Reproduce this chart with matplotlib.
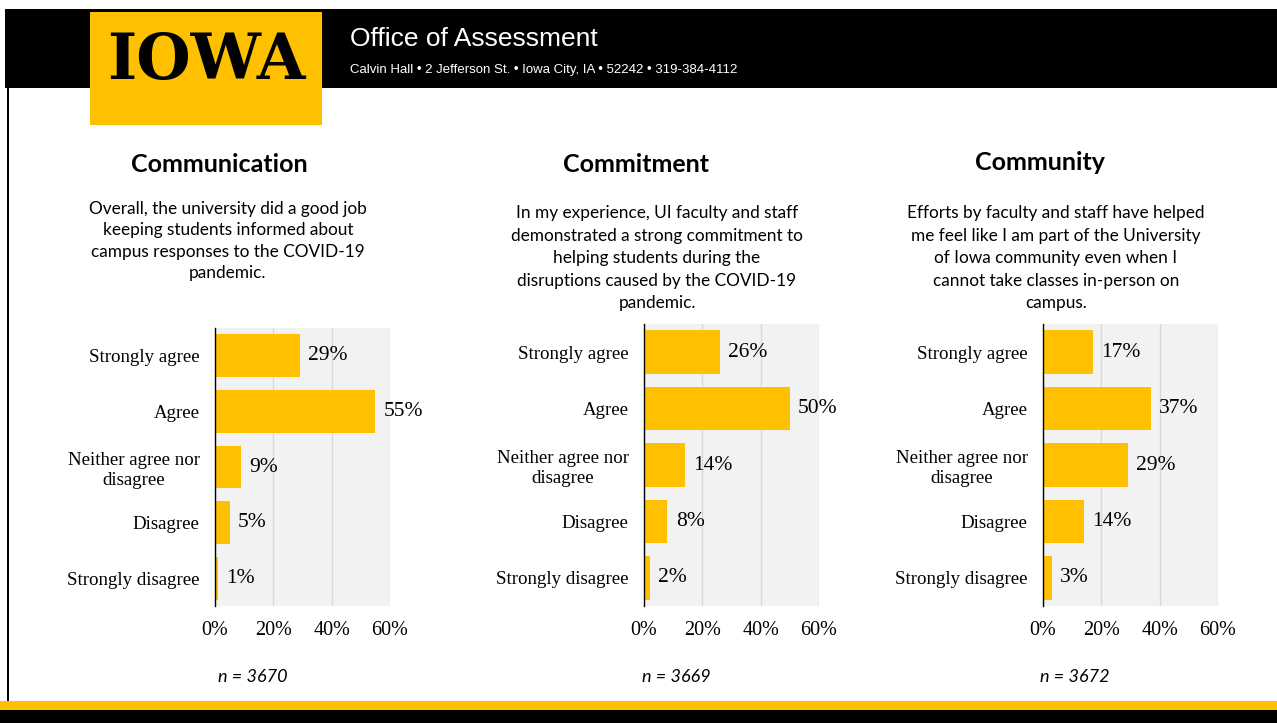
import matplotlib
matplotlib.use('Agg')
import matplotlib.pyplot as plt
from matplotlib.patches import Rectangle

W, H = 1277, 723

# ---- data ----
categories = ['Strongly agree', 'Agree', 'Neither agree nor\ndisagree', 'Disagree', 'Strongly disagree']
communication = [29, 55, 9, 5, 1]
commitment = [26, 50, 14, 8, 2]
community = [17, 37, 29, 14, 3]
titles = ['Communication', 'Commitment', 'Community']
questions = [
    'Overall, the university did a good job\nkeeping students informed about\ncampus responses to the COVID-19\npandemic.',
    'In my experience, UI faculty and staff\ndemonstrated a strong commitment to\nhelping students during the\ndisruptions caused by the COVID-19\npandemic.',
    'Efforts by faculty and staff have helped\nme feel like I am part of the University\nof Iowa community even when I\ncannot take classes in-person on\ncampus.',
]
n_labels = ['n = 3670', 'n = 3669', 'n = 3672']
x_ticks = [0, 20, 40, 60]

GOLD = '#FFC000'
SERIF = 'Liberation Serif'
SANS = 'Lato'
HEAD = 'Liberation Sans'


def fx(x):
    return x / W


def fy(y):
    return 1 - y / H


fig = plt.figure(figsize=(W / 100, H / 100), dpi=100)


def rect(x0, y0, x1, y1, color):
    fig.add_artist(Rectangle((fx(x0), fy(y1)), (x1 - x0) / W, (y1 - y0) / H,
                             facecolor=color, edgecolor='none', transform=fig.transFigure))


# ---- header / frame ----
rect(5, 9, W, 88, 'black')
rect(7, 88, 9, 701, 'black')
rect(90, 12, 322, 125, GOLD)
rect(0, 701, W, 710, GOLD)
rect(0, 710, W, H, 'black')

fig.text(fx(206), fy(61), 'IOWA', family='DejaVu Serif', weight='heavy', fontsize=45,
         color='black', ha='center', va='center')

fig.text(fx(350), fy(39), 'Office of Assessment', color='white', fontsize=19,
         family=HEAD, va='center', ha='left')
fig.text(fx(350), fy(70), 'Calvin Hall \u2022 2 Jefferson St. \u2022 Iowa City, IA \u2022 52242 \u2022 319-384-4112',
         color='white', fontsize=9.5, family=HEAD, va='center', ha='left')

# ---- panels ----
panels = [
    dict(vals=communication, box=(215, 390, 328, 606), tx=219, ty=164, qx=228, qy=241, ls=1.4, nx=253),
    dict(vals=commitment, box=(644, 819, 324, 606), tx=636, ty=165, qx=657, qy=258, ls=1.5, nx=676),
    dict(vals=community, box=(1043, 1218, 324, 606), tx=1040, ty=162, qx=1056, qy=258, ls=1.5, nx=1075),
]

for i, p in enumerate(panels):
    x0, x1, y0, y1 = p['box']
    ax = fig.add_axes([fx(x0), fy(y1), (x1 - x0) / W, (y1 - y0) / H])
    ax.set_facecolor('#F2F2F2')
    ypos = range(len(categories))
    ax.barh(ypos, p['vals'], height=0.77, color=GOLD, zorder=3)
    ax.set_xlim(0, 60)
    ax.set_ylim(len(categories) - 0.5, -0.5)
    ax.set_xticks(x_ticks)
    ax.set_xticklabels([f'{t}%' for t in x_ticks], family=SERIF, fontsize=14.5)
    ax.set_yticks(list(ypos))
    ax.set_yticklabels(categories, family=SERIF, fontsize=13.6, multialignment='center')
    ax.tick_params(axis='both', length=0)
    ax.tick_params(axis='y', pad=11)
    ax.tick_params(axis='x', pad=11)
    ax.grid(axis='x', color='#D9D9D9', linewidth=1, zorder=0)
    for s in ['top', 'right', 'bottom']:
        ax.spines[s].set_visible(False)
    ax.spines['left'].set_color('black')
    ax.spines['left'].set_linewidth(1)
    ax.spines['left'].set_zorder(4)
    for y, val in zip(ypos, p['vals']):
        ax.annotate(f'{val}%', (val, y), xytext=(6, 0), textcoords='offset points',
                    va='center', ha='left', family=SERIF, fontsize=15.5, clip_on=False)

    fig.text(fx(p['tx']), fy(p['ty']), titles[i], family=SANS, weight='bold', fontsize=18,
             ha='center', va='center')
    fig.text(fx(p['qx']), fy(p['qy']), questions[i], family=SANS, fontsize=12.4,
             ha='center', va='center', linespacing=p['ls'], multialignment='center')
    fig.text(fx(p['nx']), fy(677), n_labels[i], family=SANS, style='italic', fontsize=13,
             ha='center', va='center')

fig.savefig('out.png', dpi=100, facecolor='white')
